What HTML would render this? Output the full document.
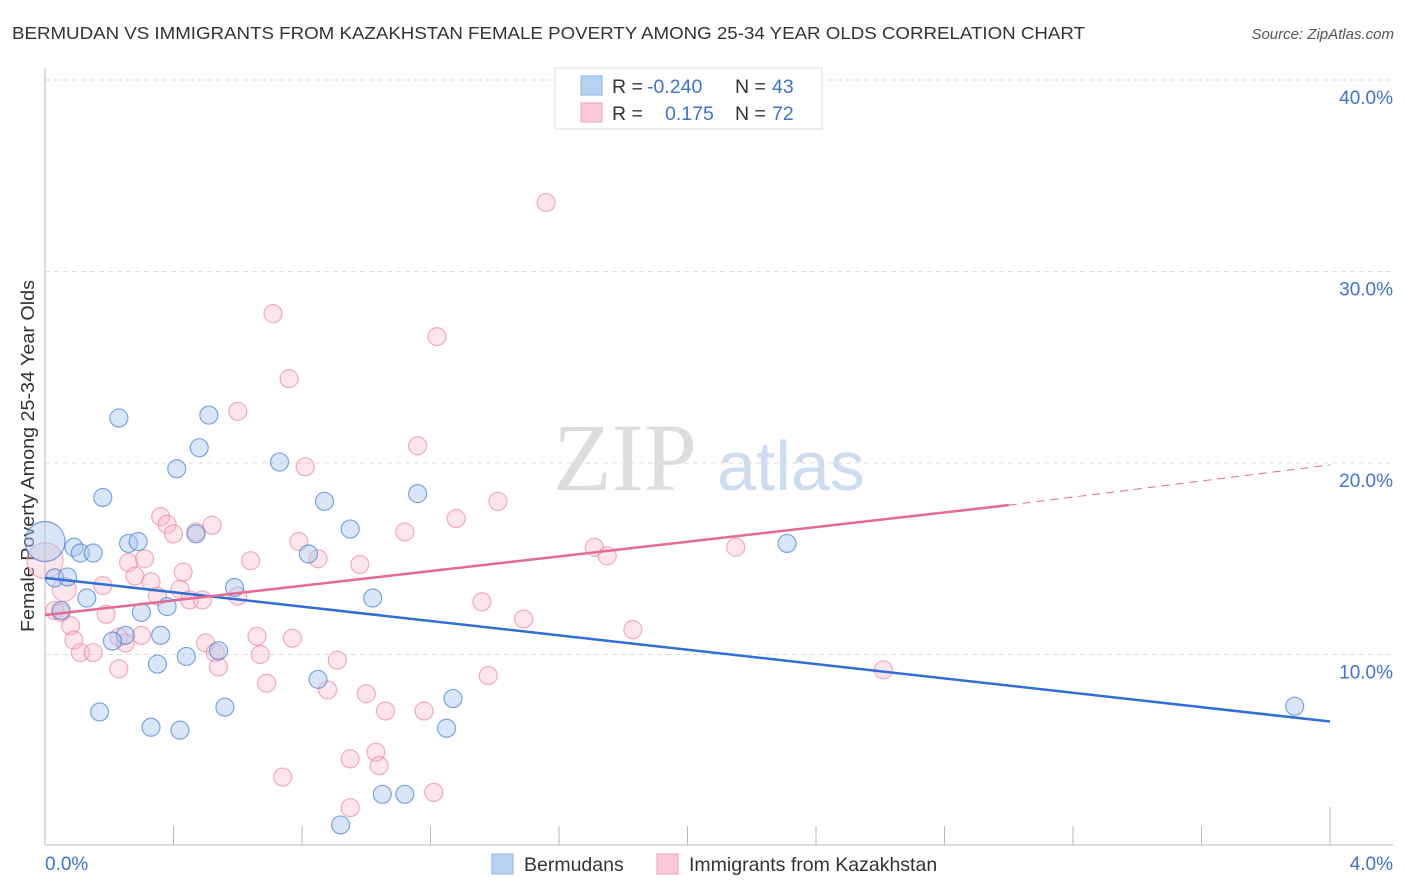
<!DOCTYPE html>
<html><head><meta charset="utf-8"><style>
body{margin:0;background:#fff;font-family:"Liberation Sans",sans-serif}
svg{display:block}
</style></head><body>
<svg id="chart" width="1406" height="892" viewBox="0 0 1406 892">
<text x="12" y="39" font-size="17.5" fill="#333" textLength="1073" lengthAdjust="spacingAndGlyphs">BERMUDAN VS IMMIGRANTS FROM KAZAKHSTAN FEMALE POVERTY AMONG 25-34 YEAR OLDS CORRELATION CHART</text>
<text x="1394" y="39" font-size="15" fill="#555" font-style="italic" text-anchor="end">Source: ZipAtlas.com</text>
<text x="553" y="490" font-size="96" font-family="Liberation Serif,serif" fill="#ddd">ZIP</text>
<text x="717" y="490" font-size="70" fill="#cddcf0">atlas</text>
<text transform="translate(34,456) rotate(-90)" font-size="18" fill="#333" text-anchor="middle" textLength="352" lengthAdjust="spacingAndGlyphs">Female Poverty Among 25-34 Year Olds</text>
<g id="grid"></g><g id="marks"></g><g id="lines"></g>
<g>
<rect x="555" y="68" width="267" height="61" fill="#fff" stroke="#ddd"/>
<rect x="581" y="76" width="21" height="19" fill="#b7d1f5" stroke="#8cb2e8"/>
<text x="612" y="93" font-size="19.5" fill="#333">R = </text><text x="647" y="93" font-size="19.5" fill="#3f73cc">-0.240</text>
<text x="735" y="93" font-size="19.5" fill="#333">N = </text><text x="772" y="93" font-size="19.5" fill="#3f73cc">43</text>
<rect x="581" y="103" width="21" height="19" fill="#fbc8d7" stroke="#f0a0b8"/>
<text x="612" y="120" font-size="19.5" fill="#333">R = </text><text x="665" y="120" font-size="19.5" fill="#3f73cc">0.175</text>
<text x="735" y="120" font-size="19.5" fill="#333">N = </text><text x="772" y="120" font-size="19.5" fill="#3f73cc">72</text>
</g>
<g>
<rect x="492" y="854" width="21" height="20" fill="#b7d1f5" stroke="#8cb2e8"/>
<text x="524" y="871" font-size="19.5" fill="#333">Bermudans</text>
<rect x="657" y="854" width="21" height="20" fill="#fbc8d7" stroke="#f0a0b8"/>
<text x="689" y="871" font-size="19.5" fill="#333">Immigrants from Kazakhstan</text>
</g>
</svg>
<script>
const blueX=[0,0.03,0.07,0.05,0.09,0.11,0.15,0.13,0.18,0.23,0.26,0.29,0.25,0.21,0.30,0.17,0.33,0.35,0.36,0.38,0.41,0.42,0.44,0.47,0.48,0.51,0.54,0.56,0.59,0.73,0.82,0.85,0.87,0.92,0.95,1.02,1.05,1.12,1.16,1.25,1.27,2.31,3.89];
const blueY=[15.9,14.0,14.05,12.3,15.6,15.3,15.3,12.95,18.2,22.35,15.8,15.9,11.0,10.7,12.2,7.0,6.2,9.5,11.0,12.5,19.7,6.05,9.9,16.3,20.8,22.5,10.2,7.25,13.5,20.05,15.25,8.7,18.0,1.1,16.55,12.95,2.7,2.7,18.4,6.15,7.7,15.8,7.3];
const pinkX=[0,0.03,0.05,0.06,0.08,0.09,0.11,0.15,0.18,0.19,0.23,0.23,0.25,0.26,0.28,0.30,0.31,0.33,0.35,0.36,0.38,0.40,0.42,0.43,0.45,0.47,0.49,0.50,0.52,0.53,0.54,0.60,0.60,0.64,0.66,0.67,0.69,0.71,0.74,0.76,0.77,0.79,0.81,0.85,0.88,0.91,0.95,0.95,0.98,1.0,1.03,1.04,1.06,1.12,1.16,1.18,1.21,1.22,1.28,1.36,1.38,1.41,1.49,1.56,1.71,1.75,1.83,1.92,2.15,2.61];
const pinkY=[14.9,12.3,12.2,13.4,11.5,10.75,10.1,10.1,13.6,12.1,10.9,9.25,10.6,14.8,14.1,11.0,15.0,13.8,13.05,17.2,16.8,16.3,13.4,14.3,12.85,16.4,12.85,10.6,16.75,10.1,9.35,22.7,13.05,14.9,10.95,10.0,8.5,27.8,3.6,24.4,10.85,15.9,19.8,15.0,8.15,9.7,2.0,4.55,14.7,7.95,4.9,4.2,7.05,16.4,20.9,7.05,2.8,26.6,17.1,12.75,8.9,18.0,11.85,33.6,15.6,15.15,11.3,38.4,15.6,9.2];
const bigR={blue:{0:20},pink:{0:18,3:12}};
const yTicks=[10,20,30,40];
const yTickLabels=["10.0%","20.0%","30.0%","40.0%"];
const xTickLabels=["0.0%","4.0%"];
const blueTrend=[[0,14.0],[4.0,6.5]];
const pinkTrendSolid=[[0,12.06],[3.0,17.8]];
const pinkTrendDash=[[3.0,17.8],[4.0,19.9]];
const NS="http://www.w3.org/2000/svg";
const X=v=>45+v/4*1285, Y=v=>846-v*19.15;
function mk(tag,attrs,parent){const e=document.createElementNS(NS,tag);for(const k in attrs)e.setAttribute(k,attrs[k]);parent.appendChild(e);return e;}
const grid=document.getElementById('grid'),marks=document.getElementById('marks'),lines=document.getElementById('lines');
yTicks.forEach((t,i)=>{
 const l=mk('line',{x1:45,x2:1393,y1:Y(t),y2:Y(t),stroke:'#ddd','stroke-dasharray':'5,4'},grid);
 
 
 const tx=mk('text',{x:1393,y:Y(t)+24,'font-size':19,fill:'#3f73cc','text-anchor':'end'},grid);tx.textContent=yTickLabels[i];
 
 
});
const ax=mk('line',{x1:45,x2:1393,y1:845,y2:845,stroke:'#bbb'},grid);


const ay=mk('line',{x1:45,x2:45,y1:68,y2:845,stroke:'#bbb'},grid);


for(let i=1;i<=10;i++){const tk=mk('line',{x1:X(i*0.4),x2:X(i*0.4),y1:i==10?807:826,y2:845,stroke:'#bbb'},grid);
 
 }
const xl0=mk('text',{x:45,y:870,'font-size':19,fill:'#3f73cc'},grid);xl0.textContent=xTickLabels[0];


const xl1=mk('text',{x:1393,y:870,'font-size':19,fill:'#3f73cc','text-anchor':'end'},grid);xl1.textContent=xTickLabels[1];


pinkX.forEach((v,i)=>{const c=mk('circle',{cx:X(v),cy:Y(pinkY[i]),r:bigR.pink[i]||9,fill:'rgba(248,180,200,0.35)',stroke:'rgba(235,120,155,0.6)','stroke-width':1.2},marks);
 
 });
blueX.forEach((v,i)=>{const c=mk('circle',{cx:X(v),cy:Y(blueY[i]),r:bigR.blue[i]||9,fill:'rgba(170,200,240,0.45)',stroke:'rgba(70,130,215,0.7)','stroke-width':1.2},marks);
 
 });
function ln(p,st,dash,name){const l=mk('line',{x1:X(p[0][0]),y1:Y(p[0][1]),x2:X(p[1][0]),y2:Y(p[1][1]),stroke:st,'stroke-width':dash?1:2.5},lines);if(dash)l.setAttribute('stroke-dasharray','8,6');
 
 }
ln(blueTrend,'#2f6fd6',false,'trend-bermudans');
ln(pinkTrendSolid,'#e46a92',false,'trend-kazakhstan');
ln(pinkTrendDash,'#e46a92',true,'trend-kazakhstan-extension');
</script>
</body></html>
